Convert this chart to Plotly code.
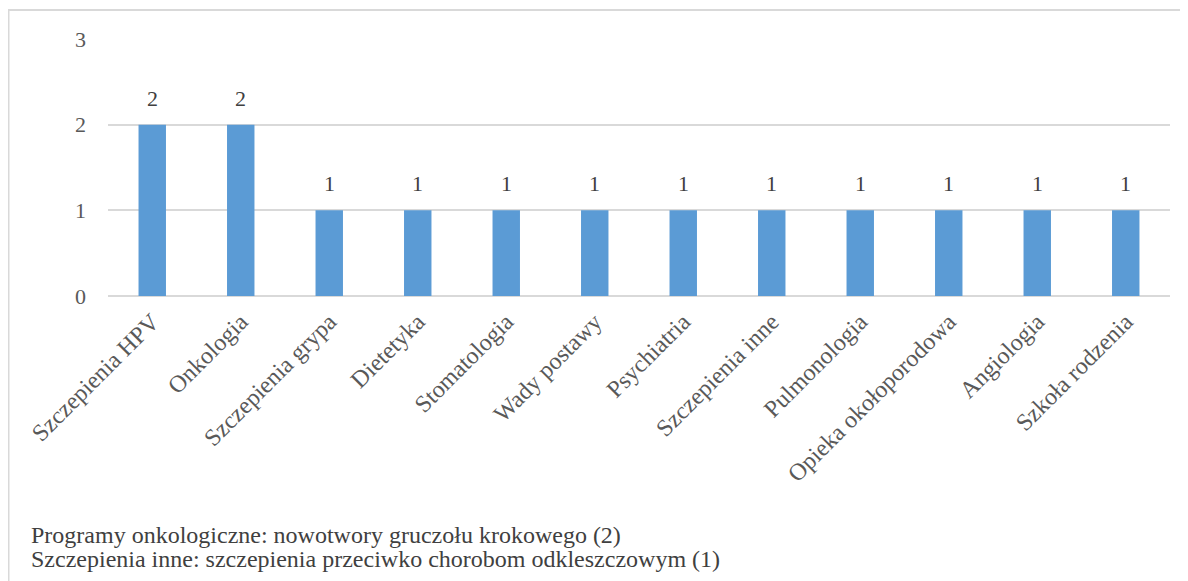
import plotly.graph_objects as go

categories = ["Szczepienia HPV", "Onkologia", "Szczepienia grypa", "Dietetyka",
              "Stomatologia", "Wady postawy", "Psychiatria", "Szczepienia inne",
              "Pulmonologia", "Opieka okołoporodowa", "Angiologia", "Szkoła rodzenia"]
values = [2, 2, 1, 1, 1, 1, 1, 1, 1, 1, 1, 1]
y_ticks = [0, 1, 2, 3]
notes = ["Programy onkologiczne: nowotwory gruczołu krokowego (2)",
         "Szczepienia inne: szczepienia przeciwko chorobom odkleszczowym (1)"]

FONT = "Liberation Serif"
OFF = 8  # page offset of the plot div
W, H = 1188 - OFF, 581 - OFF
ML, MR, MT = 108 - OFF, 1188 - 1170, 39 - OFF
MB = H - (296 - OFF)
pw, ph = W - ML - MR, H - MT - MB

def px(x):
    return (x - OFF - ML) / pw

def py(y):
    return (H - MB - (y - OFF)) / ph

fig = go.Figure(go.Bar(
    x=categories, y=values, width=0.31,
    marker=dict(color="#5b9bd5", line=dict(width=0)),
    hoverinfo="x+y",
))

for c, v in zip(categories, values):
    fig.add_annotation(x=c, y=v, text=str(v), showarrow=False, yanchor="bottom",
                       yshift=12, font=dict(family=FONT, size=22, color="#404040"))

fig.update_layout(
    width=W, height=H,
    margin=dict(l=ML, r=MR, t=MT, b=MB, autoexpand=False),
    paper_bgcolor="white", plot_bgcolor="white",
    showlegend=False,
    font=dict(family=FONT, size=22, color="#595959"),
)
fig.update_xaxes(
    tickangle=-45, showgrid=False, showline=False, zeroline=False,
    tickfont=dict(family=FONT, size=24, color="#595959"),
    ticklabelstandoff=6, automargin=False,
)
fig.update_yaxes(
    range=[0, 3], tickvals=y_ticks, showgrid=True, gridcolor="#d9d9d9", gridwidth=1.5,
    zeroline=True, zerolinecolor="#d9d9d9", zerolinewidth=1.5, showline=False,
    tickfont=dict(family=FONT, size=22, color="#595959"),
    ticklabelstandoff=21, automargin=False,
)

fig.add_shape(type="rect", xref="paper", yref="paper",
              x0=px(8.5), x1=px(1220), y0=py(620), y1=py(10),
              line=dict(color="#d9d9d9", width=2), fillcolor="rgba(0,0,0,0)", layer="below")

for i, t in enumerate(notes):
    fig.add_annotation(text=t, xref="paper", yref="paper",
                       x=px(29), y=py(535 + 24 * i), xanchor="left", yanchor="middle",
                       showarrow=False, font=dict(family=FONT, size=24, color="#404040"))

fig.write_html("out.html")
